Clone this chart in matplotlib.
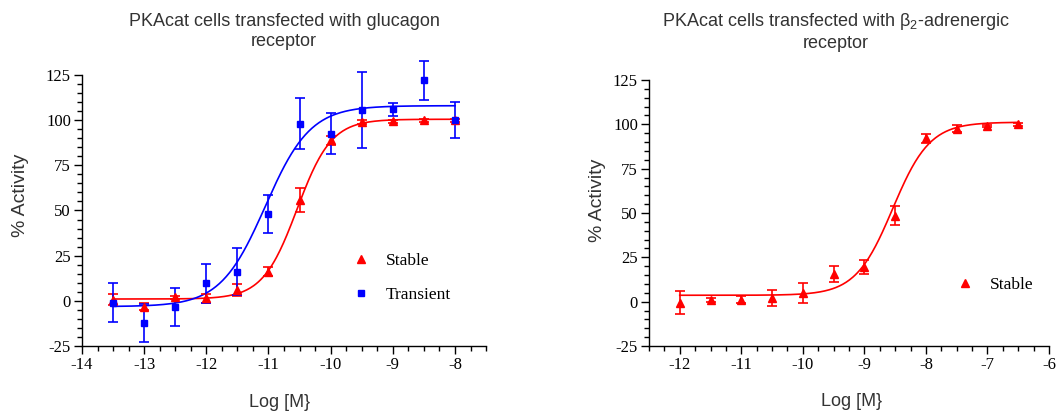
import numpy as np
import matplotlib
matplotlib.use("Agg")
import matplotlib.pyplot as plt
from matplotlib.ticker import MultipleLocator

plt.rcParams['axes.unicode_minus'] = False

# glucagon receptor panel
log_m_gluc = [-13.5, -13, -12.5, -12, -11.5, -11, -10.5, -10, -9.5, -9, -8.5, -8]
stable_gluc = [0.5, -3.3, 1.9, 1.5, 6, 16, 56, 89, 99, 99.3, 100, 100]
stable_gluc_err = [3, 2, 1, 2.5, 3.3, 2.5, 6.7, 2.5, 1, 1, 0.8, 0.8]
trans_gluc = [-1, -12.5, -3.5, 9.7, 16, 48, 98, 92.5, 105.5, 106, 122, 100]
trans_gluc_err = [11, 10.5, 10.5, 10.8, 13, 10.7, 14, 11.3, 21, 3.5, 11, 9.8]

# 4PL fit parameters: bottom, top, logEC50, hill
fit_stable_gluc = (1.0, 100.5, -10.54, 1.57)
fit_trans_gluc = (-3.2, 108.0, -11.05, 1.2)

# beta2-adrenergic receptor panel
log_m_b2 = [-12, -11.5, -11, -10.5, -10, -9.5, -9, -8.5, -8, -7.5, -7, -6.5]
stable_b2 = [-0.5, 1, 1, 2.2, 5, 15.5, 19.5, 48.5, 92, 97.5, 99, 99.9]
stable_b2_err = [6.4, 1, 2, 4.6, 5.5, 4.5, 3.8, 5.5, 2.5, 2, 0.8, 0.8]
fit_stable_b2 = (3.6, 101.2, -8.54, 1.44)

RED = '#ff0000'
BLUE = '#0000ff'
TXT = '#333333'
serif = ['Liberation Serif', 'DejaVu Serif']
sans = ['Liberation Sans Narrow', 'Liberation Sans', 'DejaVu Sans']


def four_pl(x, p):
    bottom, top, ec, hill = p
    return bottom + (top - bottom) / (1 + 10 ** ((ec - x) * hill))


def style_axes(ax, xlim, ylab_pos, xlab_pos):
    ax.set_xlim(*xlim)
    ax.set_ylim(-25, 125)
    ax.spines['top'].set_visible(False)
    ax.spines['right'].set_visible(False)
    for s in ('left', 'bottom'):
        ax.spines[s].set_linewidth(1.0)
    ax.xaxis.set_major_locator(MultipleLocator(1))
    ax.xaxis.set_minor_locator(MultipleLocator(0.25))
    ax.yaxis.set_major_locator(MultipleLocator(25))
    ax.yaxis.set_minor_locator(MultipleLocator(5))
    ax.tick_params(which='major', direction='out', length=6, width=1.0, labelsize=12, pad=2)
    ax.tick_params(which='minor', direction='out', length=3.5, width=1.0)
    for lab in ax.get_xticklabels() + ax.get_yticklabels():
        lab.set_fontfamily(serif)
    ax.set_ylabel('% Activity', fontsize=14, family=sans, color=TXT)
    ax.set_xlabel('Log [M}', fontsize=13, family=sans, color=TXT)
    ax.yaxis.set_label_coords(*ylab_pos)
    ax.xaxis.set_label_coords(*xlab_pos)
    ax.yaxis.label.set_va('center')
    ax.xaxis.label.set_va('center')


fig = plt.figure(figsize=(10.58, 4.15), dpi=100)
ax1 = fig.add_axes([0.0775, 0.1663, 0.3819, 0.653])
ax2 = fig.add_axes([0.6134, 0.1663, 0.3781, 0.641])

# left panel
xs = np.linspace(-13.5, -8, 300)
ax1.plot(xs, four_pl(xs, fit_stable_gluc), color=RED, lw=1.2)
ax1.plot(xs, four_pl(xs, fit_trans_gluc), color=BLUE, lw=1.2)
ax1.errorbar(log_m_gluc, stable_gluc, yerr=stable_gluc_err, fmt='^', color=RED, ms=5.5,
             capsize=3.5, elinewidth=1.2, capthick=1.2, label='Stable', clip_on=False)
ax1.errorbar(log_m_gluc, trans_gluc, yerr=trans_gluc_err, fmt='s', color=BLUE, ms=5,
             capsize=3.5, elinewidth=1.2, capthick=1.2, label='Transient', clip_on=False)
style_axes(ax1, (-14, -7.5), (-0.153, 0.557), (0.49, -0.207))
fig.text(0.2684, 0.925, 'PKAcat cells transfected with glucagon\nreceptor', fontsize=13,
         family=sans, color=TXT, ha='center', va='center', linespacing=1.25)
h, l = ax1.get_legend_handles_labels()
ax1.legend([hh[0] for hh in h], l, loc='center left', bbox_to_anchor=(0.64, 0.252),
           frameon=False, prop={'family': serif, 'size': 12.5}, handletextpad=0.7,
           labelspacing=1.05, handlelength=1.5, borderaxespad=0)

# right panel
xs2 = np.linspace(-12, -6.5, 300)
ax2.plot(xs2, four_pl(xs2, fit_stable_b2), color=RED, lw=1.2)
ax2.errorbar(log_m_b2, stable_b2, yerr=stable_b2_err, fmt='^', color=RED, ms=5.5,
             capsize=3.5, elinewidth=1.2, capthick=1.2, label='Stable', clip_on=False)
style_axes(ax2, (-12.5, -6), (-0.128, 0.549), (0.507, -0.21))
fig.text(0.790, 0.925, r'PKAcat cells transfected with $\mathregular{\beta_2}$-adrenergic' + '\nreceptor',
         fontsize=13, family=sans, color=TXT, ha='center', va='center', linespacing=1.25)
h, l = ax2.get_legend_handles_labels()
ax2.legend([hh[0] for hh in h], l, loc='center left', bbox_to_anchor=(0.74, 0.23),
           frameon=False, prop={'family': serif, 'size': 12.5}, handletextpad=0.7,
           handlelength=1.5, borderaxespad=0)

fig.savefig('out.png', dpi=100)
